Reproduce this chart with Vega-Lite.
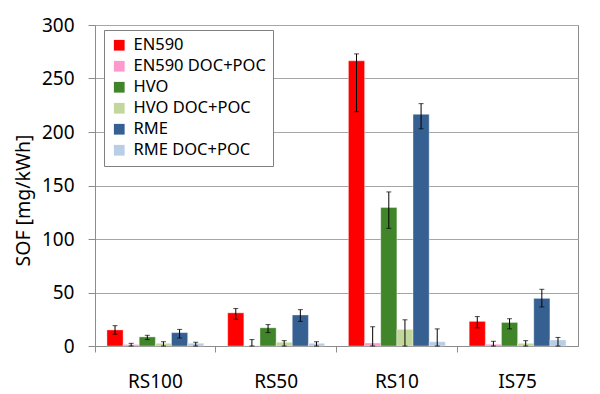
{
  "$schema": "https://vega.github.io/schema/vega-lite/v6.json",
  "autosize": "none",
  "width": 483,
  "height": 321,
  "padding": {"left": 95, "top": 25, "right": 22, "bottom": 48},
  "background": "white",
  "config": {
    "font": "Noto Sans",
    "view": {"stroke": "#8c8c8c", "strokeWidth": 1}
  },
  "data": {
    "values": [
      {"group": "RS100", "series": "EN590", "value": 15, "low": 11, "high": 19},
      {"group": "RS100", "series": "EN590 DOC+POC", "value": 1.5, "low": 0, "high": 2.5},
      {"group": "RS100", "series": "HVO", "value": 8.5, "low": 6, "high": 10},
      {"group": "RS100", "series": "HVO DOC+POC", "value": 2.5, "low": 0, "high": 4},
      {"group": "RS100", "series": "RME", "value": 12.5, "low": 7.5, "high": 15.5},
      {"group": "RS100", "series": "RME DOC+POC", "value": 2.5, "low": 0, "high": 3.5},
      {"group": "RS50", "series": "EN590", "value": 31, "low": 25, "high": 35},
      {"group": "RS50", "series": "EN590 DOC+POC", "value": 0.3, "low": 0, "high": 6},
      {"group": "RS50", "series": "HVO", "value": 17, "low": 12.5, "high": 20},
      {"group": "RS50", "series": "HVO DOC+POC", "value": 3.5, "low": 0, "high": 5},
      {"group": "RS50", "series": "RME", "value": 29, "low": 23, "high": 34},
      {"group": "RS50", "series": "RME DOC+POC", "value": 2.5, "low": 0, "high": 4},
      {"group": "RS10", "series": "EN590", "value": 266.5, "low": 219, "high": 273},
      {"group": "RS10", "series": "EN590 DOC+POC", "value": 2.8, "low": 0, "high": 18},
      {"group": "RS10", "series": "HVO", "value": 129.5, "low": 110, "high": 144},
      {"group": "RS10", "series": "HVO DOC+POC", "value": 15.5, "low": 0, "high": 24.5},
      {"group": "RS10", "series": "RME", "value": 216.5, "low": 203, "high": 226.5},
      {"group": "RS10", "series": "RME DOC+POC", "value": 4, "low": 0, "high": 16},
      {"group": "IS75", "series": "EN590", "value": 23, "low": 17, "high": 27.5},
      {"group": "IS75", "series": "EN590 DOC+POC", "value": 1.6, "low": 0, "high": 4.4},
      {"group": "IS75", "series": "HVO", "value": 22, "low": 16, "high": 25.5},
      {"group": "IS75", "series": "HVO DOC+POC", "value": 2.5, "low": 0, "high": 5},
      {"group": "IS75", "series": "RME", "value": 44.5, "low": 36.5, "high": 53},
      {"group": "IS75", "series": "RME DOC+POC", "value": 5.6, "low": 0, "high": 8}
    ]
  },
  "encoding": {
    "x": {
      "field": "group",
      "type": "nominal",
      "sort": ["RS100", "RS50", "RS10", "IS75"],
      "scale": {"paddingInner": 0, "paddingOuter": 0},
      "axis": {
        "title": null,
        "labelAngle": 0,
        "labelFontSize": 19,
        "labelColor": "#000",
        "labelPadding": 20,
        "bandPosition": 0,
        "tickSize": 6,
        "tickColor": "#8c8c8c",
        "domainColor": "#8c8c8c",
        "grid": false
      }
    },
    "xOffset": {
      "field": "series",
      "type": "nominal",
      "sort": ["EN590", "EN590 DOC+POC", "HVO", "HVO DOC+POC", "RME", "RME DOC+POC"],
      "scale": {"paddingInner": 0, "paddingOuter": 0.74}
    }
  },
  "layer": [
    {
      "mark": {"type": "bar", "stroke": "white", "strokeOpacity": 0.35, "strokeWidth": 1},
      "encoding": {
        "y": {
          "field": "value",
          "type": "quantitative",
          "scale": {"domain": [0, 300], "nice": false},
          "axis": {
            "values": [0, 50, 100, 150, 200, 250, 300],
            "labelFontSize": 19,
            "labelColor": "#000",
            "labelPadding": 14,
            "tickSize": 7,
            "tickColor": "#8c8c8c",
            "domainColor": "#8c8c8c",
            "gridColor": "#a6a6a6",
            "title": "SOF [mg/kWh]",
            "titleFontSize": 19.5,
            "titleFontWeight": "normal",
            "titleColor": "#000",
            "titleX": -72,
            "titleY": 175,
            "titleBaseline": "middle"
          }
        },
        "color": {
          "field": "series",
          "type": "nominal",
          "scale": {
            "domain": ["EN590", "EN590 DOC+POC", "HVO", "HVO DOC+POC", "RME", "RME DOC+POC"],
            "range": ["#FF0000", "#FF99CC", "#41852A", "#C3D69B", "#376092", "#B9CDE5"]
          },
          "legend": {
            "title": null,
            "orient": "none",
            "legendX": 9,
            "legendY": 5,
            "strokeColor": "#7f7f7f",
            "fillColor": "white",
            "padding": 7,
            "symbolType": "square",
            "symbolSize": 115,
            "symbolStrokeWidth": 0,
            "labelFontSize": 16.5,
            "labelColor": "#000",
            "labelOffset": 6,
            "rowPadding": 4
          }
        }
      }
    },
    {
      "mark": {"type": "rule", "color": "#000", "strokeWidth": 1},
      "encoding": {
        "y": {"field": "low", "type": "quantitative"},
        "y2": {"field": "high"}
      }
    },
    {
      "mark": {"type": "tick", "color": "#000", "size": 5, "thickness": 1},
      "encoding": {
        "y": {"field": "low", "type": "quantitative"}
      }
    },
    {
      "mark": {"type": "tick", "color": "#000", "size": 5, "thickness": 1},
      "encoding": {
        "y": {"field": "high", "type": "quantitative"}
      }
    }
  ]
}
